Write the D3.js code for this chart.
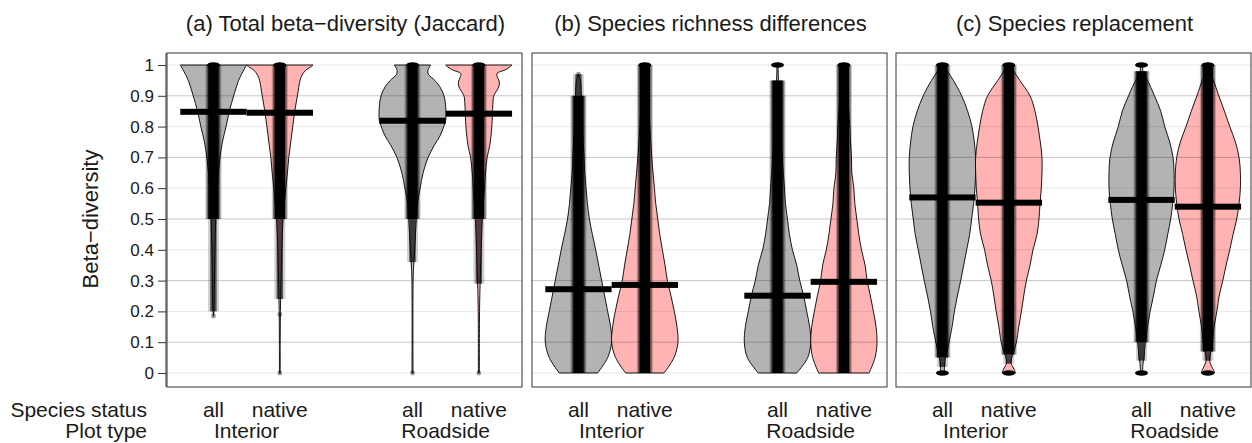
<!DOCTYPE html>
<html>
<head>
<meta charset="utf-8">
<script src="https://cdnjs.cloudflare.com/ajax/libs/d3/7.8.5/d3.min.js"></script>
<style>
  html, body { margin: 0; padding: 0; background: #fff; }
  svg { display: block; }
  text { font-family: "Liberation Sans", Arial, Helvetica, sans-serif; fill: #1a1a1a; }
</style>
</head>
<body>
<svg id="chart" width="1252" height="443"></svg>
<script>
// ---------------- DATA ----------------
const panelTitles = ["(a) Total beta\u2212diversity (Jaccard)", "(b) Species richness differences", "(c) Species replacement"];
const statusLabels = ["all", "native", "all", "native"];
const plotTypes = ["Interior", "Roadside"];
const categoryPositions = [1, 2, 4, 5];
const yTicks = [0, 0.1, 0.2, 0.3, 0.4, 0.5, 0.6, 0.7, 0.8, 0.9, 1];
const yTickLabels = ["0", "0.1", "0.2", "0.3", "0.4", "0.5", "0.6", "0.7", "0.8", "0.9", "1"];
const yTitle = "Beta\u2212diversity";
const rowTitles = ["Species status", "Plot type"];

// medians per panel: [Interior all, Interior native, Roadside all, Roadside native]
const medians = [
  [0.848, 0.845, 0.819, 0.842],
  [0.272, 0.286, 0.251, 0.296],
  [0.570, 0.553, 0.562, 0.540]
];

// violin density profiles: [value, relative density (1 = widest)]
const aIntAll = [[0.185,0],[0.2,0.015],[0.3,0.03],[0.4,0.045],[0.5,0.07],[0.55,0.09],[0.6,0.12],[0.65,0.15],[0.7,0.2],[0.75,0.27],[0.8,0.38],[0.85,0.48],[0.9,0.61],[0.95,0.76],[0.985,0.92],[1,1]];
const aIntNat = [[0,0.012],[0.1,0.012],[0.2,0.018],[0.3,0.036],[0.4,0.06],[0.5,0.1],[0.55,0.14],[0.6,0.18],[0.65,0.23],[0.7,0.27],[0.75,0.33],[0.8,0.39],[0.85,0.45],[0.9,0.53],[0.95,0.61],[0.967,0.67],[0.984,0.79],[0.993,0.92],[1,1]];
const aRoadAll = [[0,0.015],[0.3,0.018],[0.35,0.036],[0.4,0.067],[0.45,0.09],[0.5,0.115],[0.55,0.15],[0.6,0.23],[0.65,0.32],[0.7,0.47],[0.74,0.66],[0.77,0.83],[0.8,0.94],[0.82,1],[0.865,1],[0.9,0.95],[0.93,0.82],[0.95,0.67],[0.97,0.48],[0.985,0.47],[1,0.55]];
const aRoadNat = [[0,0.015],[0.2,0.02],[0.3,0.04],[0.4,0.07],[0.5,0.106],[0.6,0.17],[0.65,0.2],[0.7,0.25],[0.74,0.33],[0.8,0.39],[0.87,0.42],[0.9,0.45],[0.915,0.53],[0.932,0.61],[0.948,0.61],[0.963,0.55],[0.973,0.55],[0.984,0.79],[0.993,0.93],[1,1]];
const bIntAll = [[0,0.58],[0.05,0.88],[0.1,1],[0.15,0.97],[0.2,0.88],[0.25,0.79],[0.3,0.7],[0.35,0.61],[0.4,0.52],[0.45,0.42],[0.5,0.33],[0.55,0.27],[0.6,0.23],[0.65,0.19],[0.7,0.17],[0.8,0.12],[0.9,0.09],[0.95,0.06],[0.97,0]];
const bIntNat = [[0,0.58],[0.05,0.88],[0.1,1],[0.15,0.97],[0.2,0.89],[0.25,0.79],[0.3,0.68],[0.35,0.61],[0.4,0.53],[0.45,0.45],[0.5,0.39],[0.55,0.33],[0.6,0.29],[0.7,0.21],[0.8,0.15],[0.9,0.106],[0.95,0.076],[0.98,0.067],[1,0.09]];
const bRoadAll = [[0,0.58],[0.05,0.91],[0.1,1],[0.15,0.97],[0.2,0.88],[0.25,0.79],[0.3,0.67],[0.35,0.58],[0.4,0.45],[0.45,0.36],[0.5,0.3],[0.55,0.24],[0.6,0.21],[0.7,0.14],[0.8,0.09],[0.9,0.06],[0.95,0.03],[1,0.015]];
const bRoadNat = [[0,0.76],[0.05,0.94],[0.1,1],[0.15,0.97],[0.2,0.89],[0.25,0.8],[0.3,0.7],[0.35,0.64],[0.4,0.53],[0.45,0.45],[0.5,0.39],[0.55,0.33],[0.6,0.3],[0.65,0.24],[0.7,0.23],[0.75,0.2],[0.8,0.18],[0.9,0.12],[0.95,0.1],[0.98,0.076],[1,0.06]];
const cIntAll = [[0,0.06],[0.015,0.06],[0.03,0.06],[0.05,0.09],[0.07,0.14],[0.1,0.2],[0.15,0.29],[0.2,0.36],[0.25,0.45],[0.3,0.55],[0.35,0.64],[0.4,0.73],[0.45,0.82],[0.5,0.88],[0.55,0.94],[0.6,0.98],[0.65,1],[0.7,1],[0.75,0.96],[0.8,0.89],[0.85,0.76],[0.9,0.58],[0.95,0.33],[0.98,0.15],[1,0.03]];
const cIntNat = [[0,0.2],[0.01,0.17],[0.02,0.12],[0.035,0.06],[0.05,0.09],[0.07,0.15],[0.1,0.23],[0.15,0.3],[0.2,0.38],[0.25,0.45],[0.3,0.53],[0.35,0.64],[0.4,0.73],[0.45,0.85],[0.5,0.91],[0.55,0.94],[0.6,0.98],[0.65,1],[0.7,1],[0.75,0.95],[0.8,0.88],[0.85,0.79],[0.9,0.64],[0.95,0.33],[0.98,0.15],[1,0.03]];
const cRoadAll = [[0,0.03],[0.03,0.045],[0.05,0.076],[0.07,0.09],[0.1,0.12],[0.15,0.18],[0.2,0.26],[0.25,0.36],[0.3,0.45],[0.35,0.58],[0.4,0.7],[0.45,0.79],[0.5,0.88],[0.55,0.94],[0.6,0.98],[0.65,0.98],[0.7,0.95],[0.75,0.85],[0.8,0.7],[0.85,0.58],[0.9,0.39],[0.95,0.18],[0.97,0.06],[1,0.03]];
const cRoadNat = [[0,0.2],[0.01,0.17],[0.02,0.12],[0.045,0.045],[0.07,0.09],[0.1,0.14],[0.15,0.19],[0.2,0.27],[0.25,0.34],[0.3,0.45],[0.35,0.55],[0.4,0.66],[0.45,0.76],[0.5,0.87],[0.55,0.94],[0.6,0.98],[0.65,0.98],[0.7,0.94],[0.75,0.83],[0.8,0.66],[0.85,0.5],[0.9,0.33],[0.95,0.17],[0.97,0.09],[1,0.045]];

const violinProfiles = [
  [aIntAll, aIntNat, aRoadAll, aRoadNat],
  [bIntAll, bIntNat, bRoadAll, bRoadNat],
  [cIntAll, cIntNat, cRoadAll, cRoadNat]
];

// jittered point clouds: dense range, sparse tail range, piles at a single value, isolated points
const denseRanges = [
  [[0.5,1],[0.5,1],[0.5,1],[0.5,1]],
  [[0,0.9],[0,1],[0,0.95],[0,1]],
  [[0.05,1],[0.06,1],[0.1,0.98],[0.07,1]]
];
const sparseRanges = [
  [[0.2,0.5],[0.24,0.5],[0.36,0.5],[0.29,0.5]],
  [[0.9,0.97],null,null,null],
  [[0.02,0.05],[0.03,0.06],[0.04,0.1],[0.04,0.07]]
];
const pileValues = [
  [[1],[1],[1],[1]],
  [[],[1],[1],[1]],
  [[0,1],[0,1],[0,1],[0,1]]
];
const loneValues = [
  [[0.185],[0.19,0],[0],[0]],
  [[0.97],[],[],[]],
  [[],[],[],[]]
];

const violinColors = ["#b3b3b3", "#ffb3b3", "#b3b3b3", "#ffb3b3"];

// ---------------- LAYOUT ----------------
const svg = d3.select("#chart");
const panelLefts = [167, 532, 896];
const panelWidth = 355;
const panelTop = 53, panelBottom = 387;

const y = d3.scaleLinear().domain([0, 1]).range([373, 65]);

// y axis
const yAxis = d3.axisLeft(y).tickValues(yTicks).tickFormat((d, i) => yTickLabels[i])
  .tickSize(8).tickSizeOuter(0).tickPadding(4);
const ga = svg.append("g").attr("transform", `translate(${panelLefts[0] - 1},0)`).call(yAxis);
ga.select(".domain").remove();
ga.selectAll(".tick line").attr("stroke", "#333");
ga.selectAll(".tick text").style("font-size", "17px").style("font-family", '"Liberation Sans", Arial, sans-serif').attr("fill", "#1a1a1a");
svg.append("line").attr("x1", panelLefts[0] - 1).attr("x2", panelLefts[0] - 1)
  .attr("y1", panelTop).attr("y2", panelBottom).attr("stroke", "#333");

svg.append("text").attr("transform", `translate(98,${(panelTop + panelBottom) / 2 - 1}) rotate(-90)`)
  .attr("text-anchor", "middle").style("font-size", "22px").text(yTitle);

svg.append("text").attr("x", 147).attr("y", 417).attr("text-anchor", "end").style("font-size", "21px").text(rowTitles[0]);
svg.append("text").attr("x", 147).attr("y", 438).attr("text-anchor", "end").style("font-size", "21px").text(rowTitles[1]);

const violinArea = d3.area().curve(d3.curveCatmullRom.alpha(0.5));
const bandArea = d3.area().curve(d3.curveLinear);

panelTitles.forEach((title, p) => {
  const left = panelLefts[p];
  const x = d3.scaleLinear().domain([0.3, 5.65]).range([left, left + panelWidth]);
  const unit = x(1) - x(0);
  const g = svg.append("g");

  const clipId = "clip" + p;
  svg.append("clipPath").attr("id", clipId).append("rect")
    .attr("x", left).attr("y", panelTop).attr("width", panelWidth).attr("height", panelBottom - panelTop);
  const inner = g.append("g").attr("clip-path", `url(#${clipId})`);

  // title
  svg.append("text").attr("x", left + panelWidth / 2 + 1).attr("y", 31).attr("text-anchor", "middle")
    .style("font-size", "22px").text(title);

  // violins
  categoryPositions.forEach((c, i) => {
    const prof = violinProfiles[p][i];
    inner.append("path")
      .datum(prof)
      .attr("d", violinArea
        .y(d => y(d[0]))
        .x0(d => x(c) - d[1] * 0.5 * unit)
        .x1(d => x(c) + d[1] * 0.5 * unit))
      .attr("fill", violinColors[i])
      .attr("stroke", "#000")
      .attr("stroke-width", 0.9);
  });

  // grid lines over violins
  inner.selectAll("line.grid").data(yTicks).enter().append("line")
    .attr("x1", left).attr("x2", left + panelWidth)
    .attr("y1", d => y(d)).attr("y2", d => y(d))
    .attr("stroke", "#000")
    .attr("stroke-opacity", (d, k) => k % 2 === 1 ? 0.22 : 0.09)
    .attr("stroke-width", 1);

  // point clouds
  categoryPositions.forEach((c, i) => {
    const cx = x(c);
    const dense = denseRanges[p][i];
    const sparse = sparseRanges[p][i];
    const layers = [];
    if (sparse) {
      layers.push({ r: sparse, w: 5.5, o: 0.18 });
      layers.push({ r: sparse, w: 3.2, o: 0.6 });
    }
    layers.push({ r: dense, w: 8, o: 0.22 });
    layers.push({ r: dense, w: 6.8, o: 0.45 });
    layers.push({ r: dense, w: 5.2, o: 1 });
    layers.forEach(b => {
      const prof = [[b.r[0]], [b.r[1]]];
      inner.append("path").datum(prof)
        .attr("d", bandArea.y(d => y(d[0])).x0(() => cx - b.w).x1(() => cx + b.w))
        .attr("fill", "#000").attr("fill-opacity", b.o);
    });
    pileValues[p][i].forEach(v => {
      inner.append("ellipse").attr("cx", cx).attr("cy", y(v)).attr("rx", 6.5).attr("ry", 2.8)
        .attr("fill", "#000");
    });
    loneValues[p][i].forEach(v => {
      inner.append("circle").attr("cx", cx).attr("cy", y(v)).attr("r", 2.4)
        .attr("fill", "#000").attr("fill-opacity", 0.4);
    });
  });

  // median bars
  categoryPositions.forEach((c, i) => {
    inner.append("rect")
      .attr("x", x(c - 0.5)).attr("width", x(c + 0.5) - x(c - 0.5))
      .attr("y", y(medians[p][i]) - 3).attr("height", 6)
      .attr("fill", "#000");
  });

  // border
  g.append("rect").attr("x", left).attr("y", panelTop).attr("width", panelWidth)
    .attr("height", panelBottom - panelTop).attr("fill", "none").attr("stroke", "#333").attr("stroke-width", 1);

  // category labels
  categoryPositions.forEach((c, i) => {
    svg.append("text").attr("x", x(c)).attr("y", 417).attr("text-anchor", "middle")
      .style("font-size", "21px").text(statusLabels[i]);
  });
  plotTypes.forEach((t, j) => {
    const mid = (x(categoryPositions[j * 2]) + x(categoryPositions[j * 2 + 1])) / 2;
    svg.append("text").attr("x", mid).attr("y", 438).attr("text-anchor", "middle")
      .style("font-size", "21px").text(t);
  });
});
</script>
</body>
</html>
